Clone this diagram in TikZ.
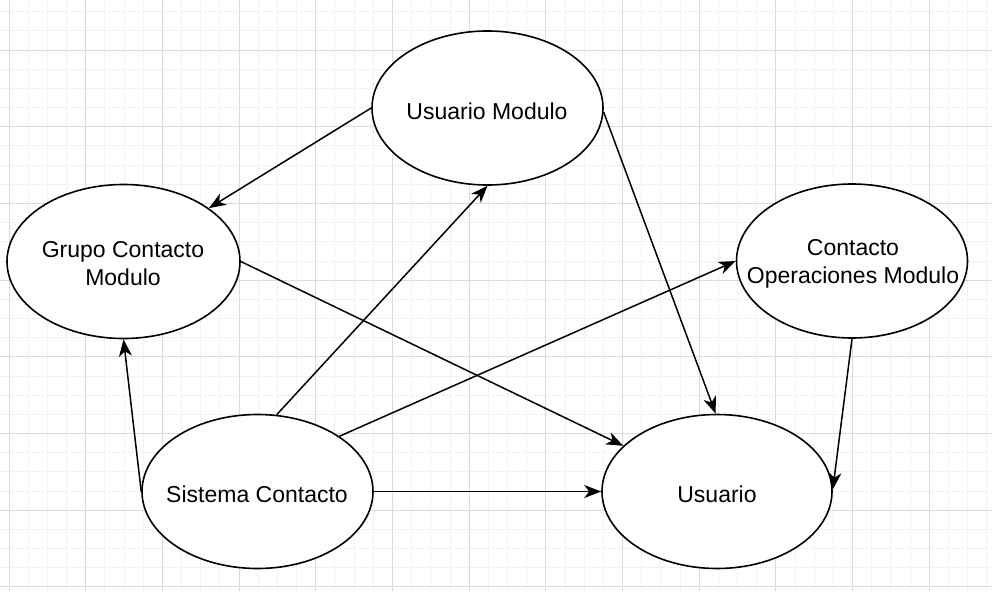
\documentclass[tikz,border=0pt]{standalone}
\usepackage{fontspec}
\setmainfont{Liberation Sans}
\usetikzlibrary{shapes.geometric, arrows.meta}
\definecolor{gridminor}{gray}{0.95}
\definecolor{gridmajor}{gray}{0.86}
\tikzset{
x=1pt, y=-1pt, % one unit is one pixel of the screenshot
module/.style={ellipse, draw, line width=1.6pt, fill=white, inner sep=0pt,
  minimum width=231pt, minimum height=154pt}, % the module bubbles
label text/.style={align=center, inner sep=0pt, font=\fontsize{23}{28}\selectfont}, % text inside a bubble
link/.style={-{Stealth[length=17pt,width=13pt,inset=5pt]}, line width=1.5pt}, % the arrows
}
\begin{document}
\begin{tikzpicture}
    \useasboundingbox (0,0) rectangle (992,591);
    % background grid
    \foreach \i in {0,...,51} \draw[gridminor, line width=0.8pt] ({9+19.17*\i},0) -- ({9+19.17*\i},591);
    \foreach \j in {0,...,30} \draw[gridminor, line width=0.8pt] (0,{11.7+19.17*\j}) -- (992,{11.7+19.17*\j});
    \foreach \i in {0,...,12} \draw[gridmajor, line width=0.8pt] ({9+76.68*\i},0) -- ({9+76.68*\i},591);
    \foreach \j in {0,...,7} \draw[gridmajor, line width=0.8pt] (0,{50+76.68*\j}) -- (992,{50+76.68*\j});

    \node[module] (UM) at (487.5,108) {};
    \node[module, minimum width=233pt] (GCM) at (123.5,261.5) {};
    \node[module] (COM) at (852,261) {};
    \node[module] (SC) at (257.5,491.5) {};
    \node[module, minimum width=230pt] (U) at (717,491.5) {};

    \node[label text] (UMt) at (487,111) {Usuario Modulo};
    \node[label text] (GCMt) at (123,264) {Grupo Contacto\\Modulo};
    \node[label text] (COMt) at (853,264) {Contacto\\Operaciones Modulo};
    \node[label text] (SCt) at (257,494) {Sistema Contacto};
    \node[label text] (Ut) at (717,494) {Usuario};

  \draw (UM.180) edge[link] (GCM.32)
        (UM.-2) edge[link] (U.91)
        (GCM.0) edge[link] (U.154)

        (SC.76) edge[link] (UM.270)
        (SC.34) edge[link] (COM.180)
        (SC.180) edge[link] (GCM.270)
        (SC.0) edge[link] (U.180)

        (COM.270) edge[link] (U.1);
\end{tikzpicture}
\end{document}
